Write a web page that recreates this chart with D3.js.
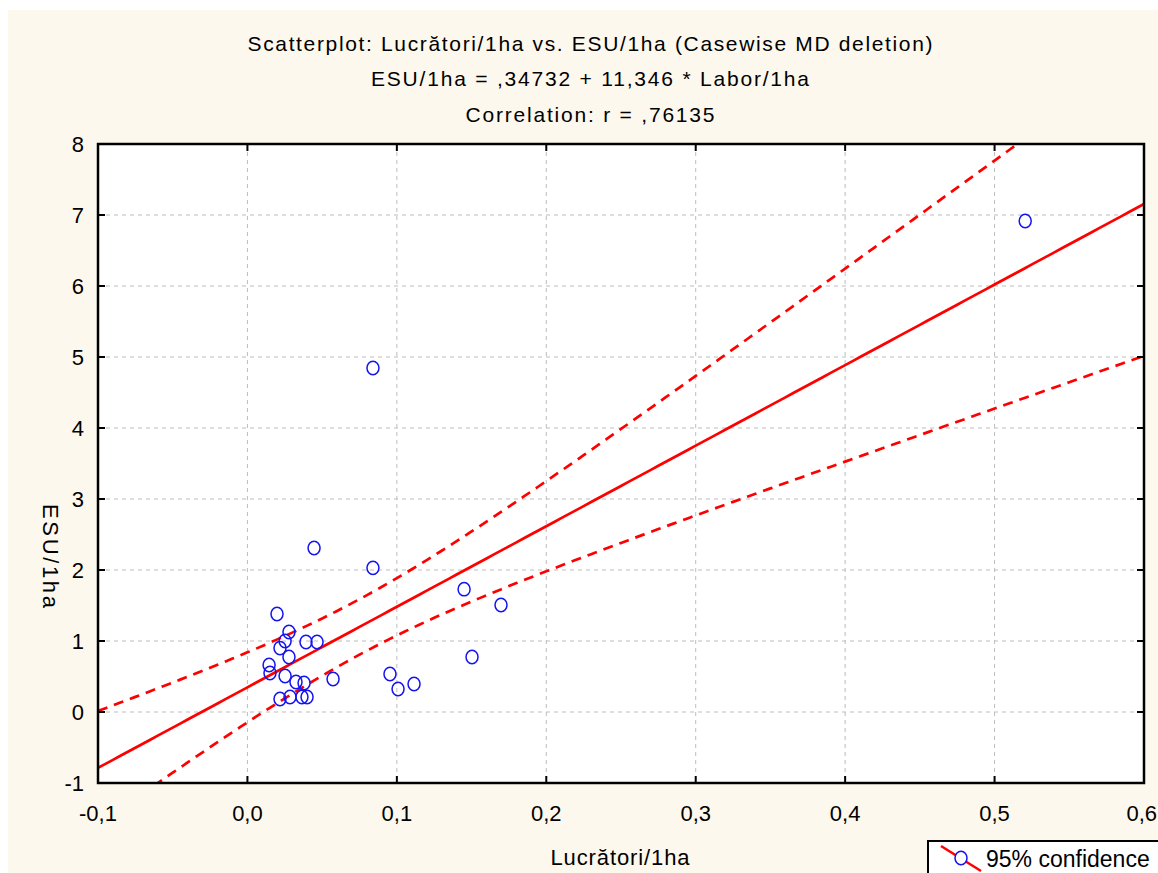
<!DOCTYPE html>
<html>
<head>
<meta charset="utf-8">
<script src="https://cdn.jsdelivr.net/npm/d3@7"></script>
<style>
  body { margin: 0; background: #ffffff; }
  svg { display: block; }
  text { font-family: "Liberation Sans", Arial, sans-serif; fill: #000; }
</style>
</head>
<body>
<svg id="chart" width="1158" height="873"></svg>
<script>
// values
var laborPerHa = [0.5205, 0.084, 0.0446, 0.084, 0.145, 0.1697, 0.0198, 0.0278, 0.0252, 0.0392,
                  0.0466, 0.0218, 0.0278, 0.0145, 0.0151, 0.0252, 0.0325, 0.0379, 0.0573, 0.0954,
                  0.1008, 0.1115, 0.1503, 0.0218, 0.0285, 0.0365, 0.0399];
var esuPerHa   = [6.915, 4.845, 2.31, 2.03, 1.73, 1.507, 1.38, 1.127, 1.0, 0.986,
                  0.986, 0.90, 0.775, 0.662, 0.55, 0.507, 0.423, 0.408, 0.465, 0.535,
                  0.324, 0.394, 0.775, 0.183, 0.211, 0.211, 0.211];
var intercept = 0.34732, slope = 11.346;
var xTicks = [-0.1, 0, 0.1, 0.2, 0.3, 0.4, 0.5, 0.6];
var yTicks = [-1, 0, 1, 2, 3, 4, 5, 6, 7, 8];
var titleLines = ["Scatterplot: Lucrători/1ha vs. ESU/1ha (Casewise MD deletion)",
                  "ESU/1ha = ,34732 + 11,346 * Labor/1ha",
                  "Correlation: r = ,76135"];

var svg = d3.select("#chart");
var L = 98, R = 1144, T = 144, B = 783;

svg.append("rect").attr("x", 8).attr("y", 10).attr("width", 1150).attr("height", 863)
   .attr("fill", "#fdf8ed");
svg.append("rect").attr("x", L).attr("y", T).attr("width", R - L).attr("height", B - T)
   .attr("fill", "#fff");

var x = d3.scaleLinear().domain([-0.1, 0.6]).range([L, R]);
var y = d3.scaleLinear().domain([-1, 8]).range([B, T]);
var fmt = function(d) { return d3.format(".1f")(d).replace(".", ",").replace("\u2212", "-"); };

// grid
svg.append("g").selectAll("line").data(xTicks.slice(1, -1)).enter().append("line")
  .attr("x1", function(d) { return x(d); }).attr("x2", function(d) { return x(d); })
  .attr("y1", T).attr("y2", B)
  .attr("stroke", "#bdbdbd").attr("stroke-dasharray", "4,4");
svg.append("g").selectAll("line").data(yTicks.slice(1, -1)).enter().append("line")
  .attr("y1", function(d) { return y(d); }).attr("y2", function(d) { return y(d); })
  .attr("x1", L).attr("x2", R)
  .attr("stroke", "#bdbdbd").attr("stroke-dasharray", "4,4");

// regression + 95% band
var n = laborPerHa.length;
var xMean = d3.mean(laborPerHa);
var sxx = d3.sum(laborPerHa, function(v) { return (v - xMean) * (v - xMean); });
var sse = d3.sum(laborPerHa, function(v, i) { var r = esuPerHa[i] - (intercept + slope * v); return r * r; });
var se = Math.sqrt(sse / (n - 2));
var tval = 2.0595;
var xs = d3.range(-0.1, 0.6001, 0.005);
function band(sign) {
  return xs.map(function(v) {
    var hw = tval * se * Math.sqrt(1 / n + (v - xMean) * (v - xMean) / sxx);
    return [v, intercept + slope * v + sign * hw];
  });
}
svg.append("clipPath").attr("id", "clip").append("rect")
  .attr("x", L).attr("y", T).attr("width", R - L).attr("height", B - T);
var plot = svg.append("g").attr("clip-path", "url(#clip)");
var line = d3.line().x(function(d) { return x(d[0]); }).y(function(d) { return y(d[1]); });

plot.append("path").attr("d", line(xs.map(function(v) { return [v, intercept + slope * v]; })))
  .attr("fill", "none").attr("stroke", "#ff0000").attr("stroke-width", 2.7);
[1, -1].forEach(function(s) {
  plot.append("path").attr("d", line(band(s)))
    .attr("fill", "none").attr("stroke", "#ff0000").attr("stroke-width", 2.7)
    .attr("stroke-dasharray", "10,7");
});

// points
plot.selectAll("ellipse").data(laborPerHa).enter().append("ellipse")
  .attr("cx", function(d) { return x(d); })
  .attr("cy", function(d, i) { return y(esuPerHa[i]); })
  .attr("rx", 6).attr("ry", 6.7)
  .attr("fill", "none").attr("stroke", "#1414f0").attr("stroke-width", 1.5);

// frame + inward ticks
svg.append("rect").attr("x", L).attr("y", T).attr("width", R - L).attr("height", B - T)
  .attr("fill", "none").attr("stroke", "#000").attr("stroke-width", 2.5);
var tk = svg.append("g").attr("stroke", "#000").attr("stroke-width", 2);
xTicks.forEach(function(d) {
  tk.append("line").attr("x1", x(d)).attr("x2", x(d)).attr("y1", B).attr("y2", B - 7);
  tk.append("line").attr("x1", x(d)).attr("x2", x(d)).attr("y1", T).attr("y2", T + 7);
});
yTicks.forEach(function(d) {
  tk.append("line").attr("y1", y(d)).attr("y2", y(d)).attr("x1", L).attr("x2", L + 7);
  tk.append("line").attr("y1", y(d)).attr("y2", y(d)).attr("x1", R).attr("x2", R - 7);
});

// tick labels (last one kept inside the page edge)
svg.append("g").selectAll("text").data(xTicks).enter().append("text")
  .attr("x", function(d, i) { return i === xTicks.length - 1 ? 1157 : x(d); }).attr("y", 821)
  .attr("text-anchor", function(d, i) { return i === xTicks.length - 1 ? "end" : "middle"; })
  .style("font-size", "22px")
  .text(function(d) { return fmt(d); });
svg.append("g").selectAll("text").data(yTicks).enter().append("text")
  .attr("x", 84).attr("y", function(d) { return y(d) + 8; })
  .attr("text-anchor", "end").style("font-size", "22px")
  .text(function(d) { return d; });

// titles
var titleY = [51, 86, 122], titleW = [685, 438, 249];
titleLines.forEach(function(t, i) {
  svg.append("text").attr("x", 590).attr("y", titleY[i]).attr("text-anchor", "middle")
    .style("font-size", "21px").attr("textLength", titleW[i]).attr("lengthAdjust", "spacing")
    .text(t);
});

svg.append("text").attr("x", 620).attr("y", 865).attr("text-anchor", "middle")
  .style("font-size", "22px").attr("textLength", 139).attr("lengthAdjust", "spacing")
  .text("Lucrători/1ha");
svg.append("text").attr("transform", "translate(43,556) rotate(90)").attr("text-anchor", "middle")
  .style("font-size", "22px").attr("textLength", 104).attr("lengthAdjust", "spacing")
  .text("ESU/1ha");

// legend
var lg = svg.append("g");
lg.append("rect").attr("x", 928).attr("y", 841).attr("width", 260).attr("height", 60)
  .attr("fill", "#fff").attr("stroke", "#000").attr("stroke-width", 2);
lg.append("line").attr("x1", 941).attr("y1", 846).attr("x2", 981).attr("y2", 871)
  .attr("stroke", "#ff0000").attr("stroke-width", 2.5);
lg.append("ellipse").attr("cx", 961).attr("cy", 858).attr("rx", 6).attr("ry", 6.7)
  .attr("fill", "#fff").attr("stroke", "#1414f0").attr("stroke-width", 1.5);
lg.append("text").attr("x", 986).attr("y", 867).style("font-size", "23px").text("95% confidence");
</script>
</body>
</html>
